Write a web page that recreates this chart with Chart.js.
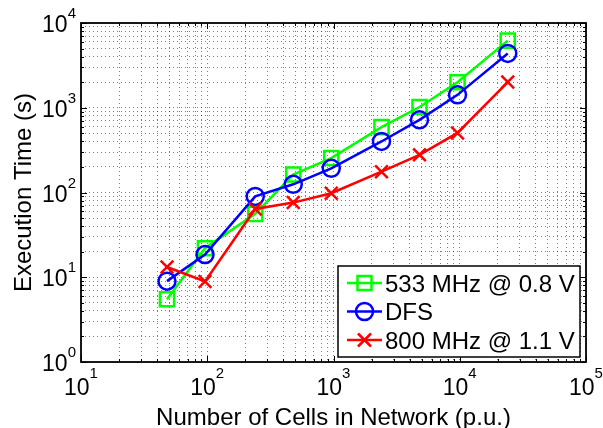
<!DOCTYPE html>
<html>
<head>
<meta charset="utf-8">
<script src="https://cdn.jsdelivr.net/npm/chart.js@4.4.1/dist/chart.umd.min.js"></script>
<style>
  html, body { margin: 0; padding: 0; background: #fff; }
</style>
</head>
<body>
<canvas id="timeChart" width="603" height="428"></canvas>
<script>
// Network size (cells, p.u.)
const cells = [48, 96, 240, 480, 960, 2400, 4800, 9600, 24000];
// Execution time (s) per configuration
const time533 = [5.5, 22, 56, 163, 255, 590, 1020, 2000, 6200];
const timeDfs = [9.0, 18.5, 90, 125, 193, 400, 720, 1420, 4370];
const time800 = [13.2, 8.9, 64, 76, 98, 176, 278, 505, 2010];
const seriesNames = ["533 MHz @ 0.8 V", "DFS", "800 MHz @ 1.1 V"];
const seriesColors = ["#00ff00", "#0000ff", "#ff0000"];
// Decade exponents for the tick labels
const xExponents = [1, 2, 3, 4, 5];
const yExponents = [0, 1, 2, 3, 4];

const FONT = '"Liberation Sans", Arial, Helvetica, sans-serif';

// 1..9 x 10^e for every decade, plus the last power
function logTicks(exps) {
  const out = [];
  exps.forEach((e, i) => {
    const base = Math.pow(10, e);
    if (i === exps.length - 1) {
      out.push(base);
      return;
    }
    for (let m = 1; m < 10; m++) out.push(m * base);
  });
  return out;
}

const xTicks = logTicks(xExponents);
const yTicks = logTicks(yExponents);

function toPoints(ys) {
  return cells.map((x, i) => ({ x: x, y: ys[i] }));
}

// draws a MATLAB style marker (used in the legend)
function drawMarker(ctx, style, x, y, color) {
  ctx.save();
  ctx.strokeStyle = color;
  ctx.lineWidth = 2.5;
  ctx.beginPath();
  if (style === "rect") {
    ctx.rect(x - 7, y - 7, 14, 14);
  } else if (style === "circle") {
    ctx.arc(x, y, 8.5, 0, Math.PI * 2);
  } else {
    ctx.moveTo(x - 6.5, y - 6.5);
    ctx.lineTo(x + 6.5, y + 6.5);
    ctx.moveTo(x + 6.5, y - 6.5);
    ctx.lineTo(x - 6.5, y + 6.5);
  }
  ctx.stroke();
  ctx.restore();
}

function isPow10(v) {
  const l = Math.log10(v);
  return Math.abs(l - Math.round(l)) < 1e-9;
}

const matlabAxes = {
  id: "matlabAxes",
  afterDraw(chart) {
    const ctx = chart.ctx;
    const area = chart.chartArea;
    const xs = chart.scales.x;
    const ys = chart.scales.y;

    ctx.save();
    // inward tick marks on all four sides
    ctx.strokeStyle = "#000";
    ctx.lineWidth = 1;
    ctx.beginPath();
    xTicks.forEach(v => {
      const px = Math.round(xs.getPixelForValue(v)) + 0.5;
      const len = isPow10(v) ? 6 : 3;
      ctx.moveTo(px, area.bottom);
      ctx.lineTo(px, area.bottom - len);
      ctx.moveTo(px, area.top);
      ctx.lineTo(px, area.top + len);
    });
    yTicks.forEach(v => {
      const py = Math.round(ys.getPixelForValue(v)) + 0.5;
      const len = isPow10(v) ? 6 : 3;
      ctx.moveTo(area.left, py);
      ctx.lineTo(area.left + len, py);
      ctx.moveTo(area.right, py);
      ctx.lineTo(area.right - len, py);
    });
    ctx.stroke();

    // frame
    ctx.lineWidth = 1.8;
    ctx.strokeRect(area.left, area.top, area.right - area.left, area.bottom - area.top);

    // tick labels 10^n
    ctx.fillStyle = "#000";
    ctx.textBaseline = "alphabetic";
    const baseFont = "23px " + FONT;
    const expFont = "15px " + FONT;
    xExponents.forEach(e => {
      const px = xs.getPixelForValue(Math.pow(10, e));
      ctx.font = baseFont;
      const wb = ctx.measureText("10").width;
      ctx.font = expFont;
      const we = ctx.measureText(String(e)).width;
      const x0 = px - (wb + we) / 2;
      ctx.font = baseFont;
      ctx.textAlign = "left";
      ctx.fillText("10", x0, area.bottom + 33);
      ctx.font = expFont;
      ctx.fillText(String(e), x0 + wb, area.bottom + 16);
    });
    yExponents.forEach(e => {
      const py = ys.getPixelForValue(Math.pow(10, e));
      ctx.font = expFont;
      const we = ctx.measureText(String(e)).width;
      const xr = area.left - 5;
      ctx.textAlign = "right";
      ctx.fillText(String(e), xr, py - 5);
      ctx.font = baseFont;
      ctx.fillText("10", xr - we, py + 9);
    });

    // axis titles
    ctx.font = "24px " + FONT;
    ctx.textAlign = "center";
    ctx.fillText("Number of Cells in Network (p.u.)", (area.left + area.right) / 2, 425);
    ctx.save();
    ctx.translate(31, (area.top + area.bottom) / 2);
    ctx.rotate(-Math.PI / 2);
    ctx.fillText("Execution Time (s)", 0, 0);
    ctx.restore();

    // legend box, bottom right inside the axes
    const lx = 338, ly = 266, lw = 242, lh = 91;
    ctx.fillStyle = "#fff";
    ctx.fillRect(lx, ly, lw, lh);
    ctx.lineWidth = 1.5;
    ctx.strokeStyle = "#000";
    ctx.strokeRect(lx, ly, lw, lh);
    const styles = ["rect", "circle", "crossRot"];
    ctx.font = "24px " + FONT;
    ctx.textAlign = "left";
    seriesNames.forEach((name, i) => {
      const cy = 283 + i * 28.5;
      ctx.strokeStyle = seriesColors[i];
      ctx.lineWidth = 2.5;
      ctx.beginPath();
      ctx.moveTo(347, cy);
      ctx.lineTo(382, cy);
      ctx.stroke();
      drawMarker(ctx, styles[i], 364.5, cy, seriesColors[i]);
      ctx.fillStyle = "#000";
      ctx.fillText(name, 385, cy + 8.5);
    });
    ctx.restore();
  }
};

function gridAxis(min, max, ticks) {
  return {
    type: "logarithmic",
    min: min,
    max: max,
    afterBuildTicks: scale => {
      scale.ticks = ticks.map(v => ({ value: v, major: isPow10(v) }));
    },
    ticks: { display: false },
    grid: {
      color: "rgba(0,0,0,0.5)",
      lineWidth: 1,
      drawTicks: false
    },
    border: { display: false, dash: [1, 3] },
    title: { display: false }
  };
}

const ctx = document.getElementById("timeChart").getContext("2d");
const timeChart = new Chart(ctx, {
  type: "line",
  data: {
    datasets: [
      {
        label: seriesNames[0],
        data: toPoints(time533),
        borderColor: seriesColors[0],
        pointBorderColor: seriesColors[0],
        pointBackgroundColor: "rgba(0,0,0,0)",
        pointStyle: "rect",
        pointRadius: 10,
        pointBorderWidth: 2.5,
        borderWidth: 2.5,
        order: 3
      },
      {
        label: seriesNames[1],
        data: toPoints(timeDfs),
        borderColor: seriesColors[1],
        pointBorderColor: seriesColors[1],
        pointBackgroundColor: "rgba(0,0,0,0)",
        pointStyle: "circle",
        pointRadius: 8.5,
        pointBorderWidth: 2.5,
        borderWidth: 2.5,
        order: 2
      },
      {
        label: seriesNames[2],
        data: toPoints(time800),
        borderColor: seriesColors[2],
        pointBorderColor: seriesColors[2],
        pointBackgroundColor: "rgba(0,0,0,0)",
        pointStyle: "crossRot",
        pointRadius: 9,
        pointBorderWidth: 2.5,
        borderWidth: 2.5,
        order: 1
      }
    ]
  },
  options: {
    responsive: false,
    animation: false,
    layout: { padding: { left: 81, top: 23, right: 17, bottom: 66 } },
    plugins: {
      legend: { display: false },
      tooltip: { enabled: false }
    },
    scales: {
      x: gridAxis(10, 100000, xTicks),
      y: gridAxis(1, 10000, yTicks)
    }
  },
  plugins: [matlabAxes]
});
</script>
</body>
</html>
